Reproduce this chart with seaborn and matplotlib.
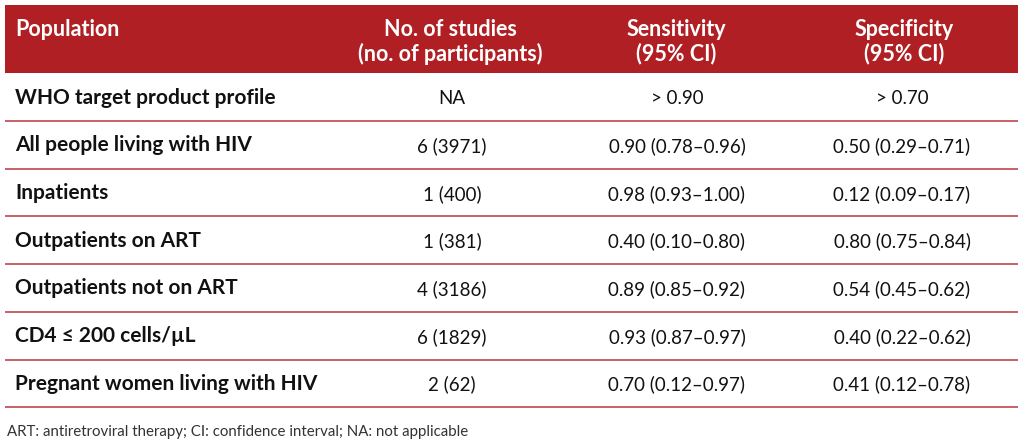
import matplotlib
matplotlib.use("Agg")
import matplotlib.pyplot as plt
import seaborn as sns
import pandas as pd

sns.set_theme(style="white")
plt.rcParams['font.family'] = ['Lato', 'DejaVu Sans']

# ---- data ----
headers = ["Population", "No. of studies\n(no. of participants)", "Sensitivity\n(95% CI)", "Specificity\n(95% CI)"]
populations = ["WHO target product profile", "All people living with HIV", "Inpatients",
               "Outpatients on ART", "Outpatients not on ART", "CD4 \u2264 200 cells/\u00b5L",
               "Pregnant women living with HIV"]
studies = ["NA", "6 (3971)", "1 (400)", "1 (381)", "4 (3186)", "6 (1829)", "2 (62)"]
sensitivity = ["> 0.90", "0.90 (0.78\u20130.96)", "0.98 (0.93\u20131.00)", "0.40 (0.10\u20130.80)",
               "0.89 (0.85\u20130.92)", "0.93 (0.87\u20130.97)", "0.70 (0.12\u20130.97)"]
specificity = ["> 0.70", "0.50 (0.29\u20130.71)", "0.12 (0.09\u20130.17)", "0.80 (0.75\u20130.84)",
               "0.54 (0.45\u20130.62)", "0.40 (0.22\u20130.62)", "0.41 (0.12\u20130.78)"]
footnote = "ART: antiretroviral therapy; CI: confidence interval; NA: not applicable"

df = pd.DataFrame({"Population": populations, "Studies": studies,
                   "Sensitivity": sensitivity, "Specificity": specificity})

# ---- layout ----
W, H = 1024, 445
fig = plt.figure(figsize=(W / 100, H / 100), dpi=100)
ax = fig.add_axes([0, 0, 1, 1])
ax.set_xlim(0, W)
ax.set_ylim(H, 0)
ax.axis("off")

red = "#B01F24"
line_red = "#C4545A"
txt = "#111111"
left, right = 5, 1018
head_top, head_bot = 5, 73
row_h = 47.7
first_line = 121

ax.add_patch(plt.Rectangle((left, head_top), right - left, head_bot - head_top,
                           facecolor=red, edgecolor="none"))

fs_head = 15.5
fs_bold = 15.0
fs_reg = 13.5
hdr_x = [15, 450, 676, 904]
ax.text(hdr_x[0], 29, headers[0], color="white", fontsize=fs_head, fontweight="bold",
        ha="left", va="center")
for i in range(1, 4):
    top, bot = headers[i].split("\n")
    ax.text(hdr_x[i], 29, top, color="white", fontsize=fs_head, fontweight="bold", ha="center", va="center")
    ax.text(hdr_x[i], 54, bot, color="white", fontsize=fs_head, fontweight="bold", ha="center", va="center")

col_x = [15, 452, 677, 902]
for r, row in df.iterrows():
    yline = first_line + r * row_h
    yc = yline - 23.5
    ax.text(col_x[0], yc, row["Population"], fontsize=fs_bold, fontweight="bold", color=txt,
            ha="left", va="center")
    ax.text(col_x[1], yc + 1, row["Studies"], fontsize=fs_reg, color=txt, ha="center", va="center")
    ax.text(col_x[2], yc + 1, row["Sensitivity"], fontsize=fs_reg, color=txt, ha="center", va="center")
    ax.text(col_x[3], yc + 1, row["Specificity"], fontsize=fs_reg, color=txt, ha="center", va="center")
    ax.plot([left, right], [yline, yline], color=line_red, lw=1.3, solid_capstyle="butt")

ax.text(7, 432, footnote, fontsize=10.8, fontweight="normal", color="#333333", ha="left", va="center")

fig.savefig("out.png", dpi=100)
